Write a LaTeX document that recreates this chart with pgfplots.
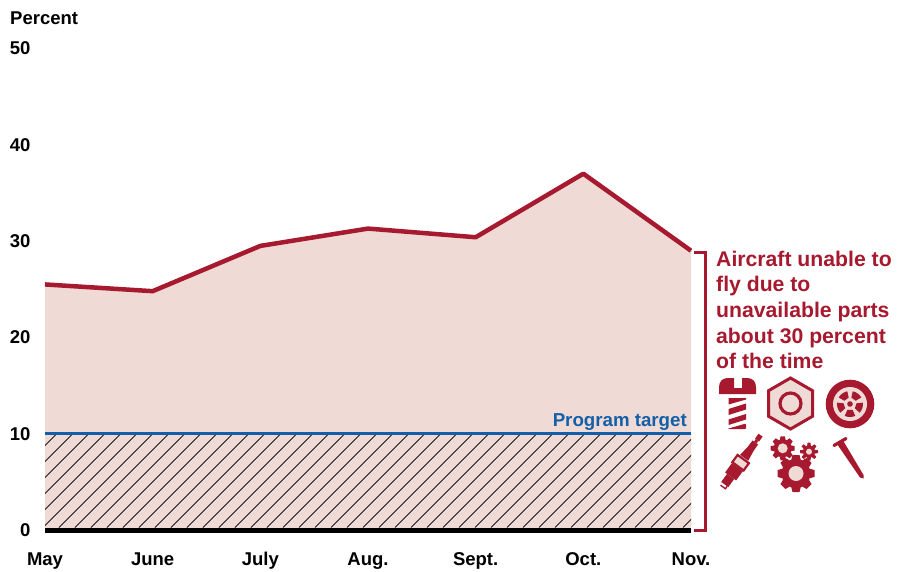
\documentclass[border=0pt]{standalone}
\usepackage{fontspec}
\setmainfont{Liberation Sans}
\usepackage{pgfplots}
\pgfplotsset{compat=1.18}
\usetikzlibrary{calc}
\definecolor{rd}{HTML}{A6192E}
\definecolor{pk}{HTML}{F0DAD6}
\definecolor{bl}{HTML}{1460A8}
\newcommand\gear[6]{% x y rbody rtooth hole teeth
  \begin{scope}[shift={(#1,#2)}]
  \fill[rd] (0,0) circle (#3);
  \pgfmathsetmacro\st{360/#6}
  \foreach \k in {1,...,#6}{
    \fill[rd,rotate=\k*\st] (#3-1,-#3*0.33) -- (#4,-#3*0.24) -- (#4,#3*0.24) -- (#3-1,#3*0.33) -- cycle;
  }
  \fill[pk] (0,0) circle (#5);
  \end{scope}}
\begin{document}
\begin{tikzpicture}[x=1pt,y=1pt]
\path[use as bounding box] (0,0) rectangle (904,571);
\begin{axis}[
  at={(45pt,41pt)},anchor=origin,
  scale only axis,width=646pt,height=481.5pt,
  xmin=0,xmax=6,ymin=0,ymax=50,
  clip=false,
  axis line style={draw=none},
  major tick length=0pt,
  xtick={0,1,2,3,4,5,6},
  xticklabels={May,June,July,Aug.,Sept.,Oct.,Nov.},
  ytick={0,10,20,30,40,50},
  /pgf/number format/assume math mode=true,
  tick label style={font=\fontsize{18.5}{20}\selectfont\bfseries,text=black},
  xticklabel style={yshift=-19pt},
  yticklabel style={xshift=-11pt},
]
\addplot[fill=pk,draw=none] coordinates {(0,0)(0,25.5)(1,24.8)(2,29.5)(3,31.3)(4,30.4)(5,37)(6,29)(6,0)} \closedcycle;
\addplot[rd,line width=4.5pt,line join=round] coordinates {(0,25.5)(1,24.8)(2,29.5)(3,31.3)(4,30.4)(5,37)(6,29)};
\addplot[bl,line width=3pt] coordinates {(0,10)(6,10)};
\addplot[black,line width=5pt] coordinates {(0,0)(6,0)};
\node[anchor=base east,inner sep=0,text=bl,font=\fontsize{18.7}{20}\selectfont\bfseries] at (axis cs:5.963,10.75) {Program target};
\end{axis}
\begin{scope}[shift={(0,571)},y=-1pt]
% hatching of the area under the target
\begin{scope}
\clip (45,435) rectangle (691,527.5);
\foreach \k in {-6,...,41}
  \draw[black!90,line width=0.8pt] ({59+16*\k},527.5) -- ++(100,-100);
\end{scope}
\node[anchor=base west,inner sep=0,font=\fontsize{18.5}{20}\selectfont\bfseries] at (10,25) {Percent};
\draw[rd,line width=3pt] (694,253) -- (705,253) -- (705,530) -- (694,530);
\foreach \t/\yy in {Aircraft unable to/266,fly due to/291.5,unavailable parts/317,about 30 percent/343,of the time/368.5}
  \node[anchor=base west,inner sep=0,text=rd,font=\fontsize{21.2}{24}\selectfont\bfseries] at (716,\yy) {\t};
% screw
\fill[rd] (719,394) -- (719,387) .. controls (719,381) and (723,378) .. (728,378) -- (734,378) -- (734,388) -- (742,388) -- (742,378) -- (747,378) .. controls (752,378) and (756,381) .. (756,387) -- (756,394) -- cycle;
\fill[rd] (728.5,398) -- (746,398) -- (746,399.5) -- (728.5,404.5) -- cycle;
\fill[rd] (728.5,409) -- (746,403.5) -- (746,409.5) -- (728.5,415) -- cycle;
\fill[rd] (728.5,419.5) -- (746,414) -- (746,419.5) -- (728.5,425) -- cycle;
\fill[rd,rounded corners=1pt] (728.5,429) -- (728.5,428.5) -- (746,423.5) -- (746,429) -- cycle;
% nut
\draw[rd,line width=3pt,fill=pk] (790.5,378) -- (812.5,390.7) -- (812.5,416.3) -- (790.5,429) -- (768.5,416.3) -- (768.5,390.7) -- cycle;
\draw[rd,line width=3.2pt] (790.5,403.5) circle (10.5);
% wheel
\fill[rd] (850,404) circle (24.3);
\fill[pk] (850,404) circle (17);
\fill[rd] (850,404) circle (2.8);
\foreach \a in {90,162,234,306,18}
  \fill[rd] ($(850,404)+(\a-24:6.5)$) -- ($(850,404)+(\a-24:13)$) arc (\a-24:\a+24:13) -- ($(850,404)+(\a+24:6.5)$) -- cycle;
% spark plug
\begin{scope}[shift={(760,436)},rotate=-126]
  \fill[rd] (-1,-2.5) rectangle (5,2.5);
  \fill[rd] (5,-1.6) rectangle (8,1.6);
  \fill[rd] (8,-3.4) -- (16,-3.6) -- (27,-5) -- (27,5) -- (16,3.6) -- (8,3.4) -- cycle;
  \draw[rd,line width=2.2pt,fill=pk] (28.5,-7) rectangle (37.5,7);
  \fill[rd] (38.5,-6.8) rectangle (50,6.8);
  \fill[rd] (50,-4.4) rectangle (60,4.4);
  \draw[rd,line width=1.4pt] (60,-3) -- (63,-3) -- (63,3);
\end{scope}
% gears
\gear{796}{473.5}{14.5}{18.5}{7.5}{8}
\gear{782.7}{448.3}{9}{12}{5}{8}
\gear{809}{451.7}{6}{9}{3}{8}
% nail
\draw[rd,line width=3.2pt,line cap=round] (834,445.5) -- (846,438.5);
\fill[rd] (837,444) -- (843,440.5) -- (863.5,475) -- (863.5,478.5) -- (860,477.5) -- cycle;
\end{scope}
\end{tikzpicture}
\end{document}
